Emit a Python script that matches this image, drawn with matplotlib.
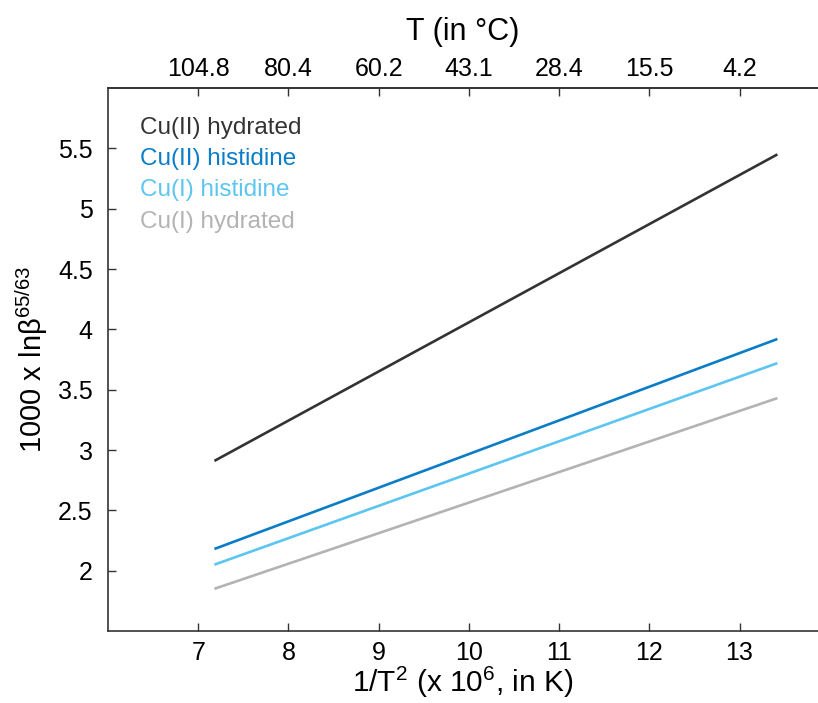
import numpy as np
import matplotlib.pyplot as plt

plt.rcParams['font.family'] = ['Liberation Sans', 'DejaVu Sans']
plt.rcParams['mathtext.default'] = 'regular'

# data
labels = ["Cu(II) hydrated", "Cu(II) histidine", "Cu(I) histidine", "Cu(I) hydrated"]
colors = ["#333333", "#0a7dc6", "#5cc6f0", "#b3b3b3"]
x_inv_t2 = [7.18, 13.42]
y_cu2_hyd = [2.91, 5.45]
y_cu2_his = [2.18, 3.92]
y_cu1_his = [2.05, 3.72]
y_cu1_hyd = [1.85, 3.43]
series = [y_cu2_hyd, y_cu2_his, y_cu1_his, y_cu1_hyd]

x_ticks = [7, 8, 9, 10, 11, 12, 13]
y_ticks = [2, 2.5, 3, 3.5, 4, 4.5, 5, 5.5]
y_ticklabels = ["2", "2.5", "3", "3.5", "4", "4.5", "5", "5.5"]
top_ticklabels = ["104.8", "80.4", "60.2", "43.1", "28.4", "15.5", "4.2"]

fig = plt.figure(figsize=(8.18, 7.03), dpi=100)
ax = fig.add_axes([0.132, 0.1024, 0.868, 0.7724])

for y, lab, c in zip(series, labels, colors):
    ax.plot(x_inv_t2, y, color=c, lw=1.9, label=lab, solid_capstyle='butt')

ax.set_xlim(6.0, 13.87)
ax.set_ylim(1.5, 6.0)
ax.set_xticks(x_ticks)
ax.set_yticks(y_ticks)
ax.set_yticklabels(y_ticklabels)

ax.spines['right'].set_visible(False)
for side in ['left', 'bottom', 'top']:
    ax.spines[side].set_color('#333333')
    ax.spines[side].set_linewidth(1.2)

ax.tick_params(direction='in', length=6, width=1, color='#333333', labelsize=18)
ax.tick_params(axis='y', pad=11)
ax.tick_params(axis='x', pad=7)

top = ax.twiny()
top.set_xlim(ax.get_xlim())
top.set_xticks(x_ticks)
top.set_xticklabels(top_ticklabels)
for side in ['right', 'left', 'bottom']:
    top.spines[side].set_visible(False)
top.spines['top'].set_color('#333333')
top.spines['top'].set_linewidth(1.2)
top.tick_params(direction='in', length=6, width=1, color='#333333',
                labelsize=18, pad=5)
top.set_xlabel("T (in °C)", fontsize=22, labelpad=12)

ax.set_xlabel("1/T$^2$ (x 10$^6$, in K)", fontsize=21.5, labelpad=0)
ax.set_ylabel("1000 x lnβ$^{65/63}$", fontsize=21, labelpad=6)

leg = ax.legend(loc='upper left', bbox_to_anchor=(0.032, 0.965), frameon=False,
                handlelength=0, handletextpad=0, labelspacing=0.38,
                fontsize=17.5, labelcolor='linecolor', borderaxespad=0)
for h in leg.legend_handles:
    h.set_visible(False)

fig.savefig("out.png", dpi=100)
